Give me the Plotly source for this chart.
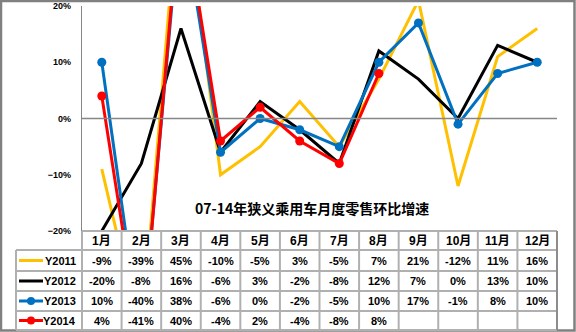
import plotly.graph_objects as go

# Month-over-month retail growth of passenger cars, by year
months = ["1月", "2月", "3月", "4月", "5月", "6月", "7月", "8月", "9月", "10月", "11月", "12月"]
years = ["Y2011", "Y2012", "Y2013", "Y2014"]
y2011 = [-9, -39, 45, -10, -5, 3, -5, 7, 21, -12, 11, 16]
y2012 = [-20, -8, 16, -6, 3, -2, -8, 12, 7, 0, 13, 10]
y2013 = [10, -40, 38, -6, 0, -2, -5, 10, 17, -1, 8, 10]
y2014 = [4, -41, 40, -4, 2, -4, -8, 8]
series = [y2011, y2012, y2013, y2014]
colors = ["#FFC000", "#000000", "#0070C0", "#FF0000"]
with_markers = [False, False, True, True]
title_text = "07-14年狭义乘用车月度零售环比增速"

W, H = 576, 332
L, R, T, B = 82, 557, 6, 231  # plot area in pixels

def px(x):
    return (x - L) / (R - L)

def py(y):
    return (B - y) / (B - T)

FONT = "Liberation Sans, Noto Sans CJK SC, sans-serif"
GRID = "#B0B0B0"

fig = go.Figure()
xs = list(range(len(months)))
for name, vals, col, mk in zip(years, series, colors, with_markers):
    fig.add_trace(go.Scatter(
        x=xs[:len(vals)], y=[v / 100 for v in vals], name=name,
        mode="lines+markers" if mk else "lines",
        line=dict(color=col, width=3),
        marker=dict(color=col, size=9),
        cliponaxis=True, showlegend=False,
    ))

shapes = []
annotations = []

# outer frame
shapes.append(dict(type="rect", xref="paper", yref="paper",
                   x0=px(1), x1=px(574.5), y0=py(1), y1=py(330.5),
                   line=dict(color="#808080", width=2.5)))
# zero line
shapes.append(dict(type="line", xref="paper", yref="y", x0=0, x1=1, y0=0, y1=0,
                   line=dict(color="#868686", width=1.3)))

# data table grid
row_edges = [231, 250, 271, 291, 311, 330]
table_left = 16
for i, yv in enumerate(row_edges):
    left = L if i == 0 else table_left
    shapes.append(dict(type="line", xref="paper", yref="paper",
                       x0=px(left), x1=1.0, y0=py(yv), y1=py(yv),
                       line=dict(color=GRID, width=2)))
shapes.append(dict(type="line", xref="paper", yref="paper",
                   x0=px(table_left), x1=px(table_left), y0=py(250), y1=py(330),
                   line=dict(color=GRID, width=2)))
for k in range(len(months) + 1):
    xv = L + (R - L) * k / len(months)
    shapes.append(dict(type="line", xref="paper", yref="paper",
                       x0=px(xv), x1=px(xv), y0=py(231), y1=py(330),
                       line=dict(color="#8C8C8C" if k == len(months) else GRID, width=2)))

tfont = dict(family=FONT, size=11, color="#000000", weight="bold")
hfont = dict(family=FONT, size=12, color="#000000", weight="bold")
row_centers = [(row_edges[i] + row_edges[i + 1]) / 2 for i in range(len(row_edges) - 1)]

# header row: month names
for i, m in enumerate(months):
    annotations.append(dict(x=i, y=py(row_centers[0]), xref="x", yref="paper",
                            yanchor="middle", xanchor="center",
                            text=m, showarrow=False, font=hfont))

# value rows with legend keys
for r, (name, vals, col, mk) in enumerate(zip(years, series, colors, with_markers)):
    yc = row_centers[r + 1]
    shapes.append(dict(type="line", xref="paper", yref="paper",
                       x0=px(19), x1=px(43), y0=py(yc), y1=py(yc),
                       line=dict(color=col, width=3)))
    if mk:
        shapes.append(dict(type="circle", xref="paper", yref="paper",
                           x0=px(27), x1=px(35), y0=py(yc - 4), y1=py(yc + 4),
                           fillcolor=col, line=dict(color=col, width=0)))
    annotations.append(dict(x=px(78), y=py(yc), xref="paper", yref="paper",
                            text=name, showarrow=False, xanchor="right", yanchor="middle",
                            font=tfont))
    for i, v in enumerate(vals):
        annotations.append(dict(x=i, y=py(yc), xref="x", yref="paper",
                                yanchor="middle", xanchor="center",
                                text=f"{v}%", showarrow=False, font=tfont))

# chart title inside plot area
annotations.append(dict(x=px(312), y=py(208), xref="paper", yref="paper",
                        xanchor="center", yanchor="middle",
                        text=title_text, showarrow=False,
                        font=dict(family="Noto Sans CJK SC, sans-serif", size=14,
                                  color="#000000", weight="bold")))

fig.update_layout(
    width=W, height=H,
    margin=dict(l=L, r=W - R, t=T, b=H - B, autoexpand=False),
    paper_bgcolor="white", plot_bgcolor="white",
    shapes=shapes, annotations=annotations,
    xaxis=dict(range=[-0.5, len(months) - 0.5], showticklabels=False, showgrid=False,
               zeroline=False, showline=False, fixedrange=True, automargin=False),
    yaxis=dict(range=[-0.2, 0.2], tickvals=[-0.2, -0.1, 0, 0.1, 0.2], tickformat=".0%",
               showgrid=False, zeroline=False, showline=True, linecolor="#868686",
               linewidth=1.3, ticks="", ticklabelstandoff=8, automargin=False,
               tickfont=dict(family=FONT, size=9, color="#000000", weight="bold")),
)

fig.write_html("out.html")
